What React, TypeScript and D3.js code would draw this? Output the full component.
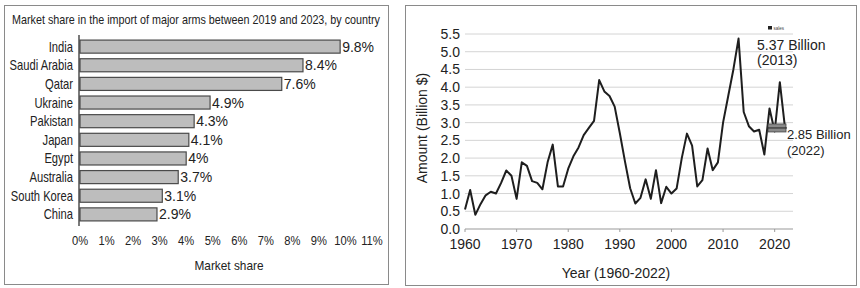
import React from "react";
import * as d3 from "d3";

const countries = ["India", "Saudi Arabia", "Qatar", "Ukraine", "Pakistan", "Japan", "Egypt", "Australia", "South Korea", "China"];
const shares = [9.8, 8.4, 7.6, 4.9, 4.3, 4.1, 4, 3.7, 3.1, 2.9];
const shareLabels = ["9.8%", "8.4%", "7.6%", "4.9%", "4.3%", "4.1%", "4%", "3.7%", "3.1%", "2.9%"];
const shareTicks = [0, 1, 2, 3, 4, 5, 6, 7, 8, 9, 10, 11];

const years = d3.range(1960, 2023);
const amounts = [
  0.55, 1.1, 0.4, 0.7, 0.95, 1.05, 1.0, 1.3, 1.65, 1.5,
  0.85, 1.88, 1.78, 1.35, 1.3, 1.12, 1.88, 2.38, 1.2, 1.2,
  1.7, 2.05, 2.3, 2.65, 2.85, 3.05, 4.2, 3.88, 3.75, 3.45,
  2.7, 1.9, 1.15, 0.72, 0.88, 1.4, 0.85, 1.66, 0.73, 1.19,
  1.0, 1.14, 2.0, 2.69, 2.35, 1.2, 1.38, 2.27, 1.66, 1.88,
  3.0, 3.75, 4.5, 5.37, 3.3, 2.9, 2.75, 2.8, 2.1, 3.4,
  2.75, 4.14, 2.85,
];
const yearTicks = [1960, 1970, 1980, 1990, 2000, 2010, 2020];
const amountTicks = [0, 0.5, 1, 1.5, 2, 2.5, 3, 3.5, 4, 4.5, 5, 5.5];

const FONT = "'Liberation Sans', Arial, sans-serif";
const TXT = "#222";

export default function App() {
  // Left chart scales
  const xS = d3.scaleLinear().domain([0, 11]).range([80, 372]);
  const yB = d3.scaleBand().domain(countries).range([34.5, 226.5]).padding(0.3);

  // Right chart scales
  const xY = d3.scaleLinear().domain([1960, 2022]).range([465, 785]);
  const yA = d3.scaleLinear().domain([0, 5.5]).range([229, 34]);
  const line = d3
    .line<number>()
    .x((_, i) => xY(years[i]))
    .y((d) => yA(d));

  const last = amounts.length - 1;
  const peakIdx = amounts.indexOf(d3.max(amounts) as number);

  return (
    <svg
      width={860}
      height={288}
      style={{ position: "absolute", left: 0, top: 0, background: "#fff" }}
      fontFamily={FONT}
    >
      {/* Left panel */}
      <rect x={4.5} y={5.5} width={384} height={279} fill="#fff" stroke="#8a8a8a" strokeWidth={1} />
      <text x={12} y={24} fontSize={13} fill={TXT} textLength={368} lengthAdjust="spacingAndGlyphs">
        Market share in the import of major arms between 2019 and 2023, by country
      </text>
      {countries.map((c, i) => {
        const yc = (yB(c) as number) + yB.bandwidth() / 2;
        return (
          <g key={c}>
            <rect
              x={xS(0)}
              y={yB(c)}
              width={xS(shares[i]) - xS(0)}
              height={yB.bandwidth()}
              fill="#bdbdbd"
              stroke="#4a4a4a"
              strokeWidth={1.2}
            />
            <text
              transform={`translate(73,${yc + 5}) scale(0.8,1)`}
              textAnchor="end"
              fontSize={14}
              fill={TXT}
            >
              {c}
            </text>
            <text x={xS(shares[i]) + 2} y={yc + 5} fontSize={14} fill={TXT}>
              {shareLabels[i]}
            </text>
          </g>
        );
      })}
      <line x1={79} x2={79} y1={35} y2={226} stroke="#333" strokeWidth={1.3} />
      {shareTicks.map((t) => (
        <text
          key={t}
          transform={`translate(${xS(t)},245) scale(0.86,1)`}
          textAnchor="middle"
          fontSize={13}
          fill={TXT}
        >
          {t + "%"}
        </text>
      ))}
      <text x={229} y={270} textAnchor="middle" fontSize={13} fill={TXT} textLength={69} lengthAdjust="spacingAndGlyphs">
        Market share
      </text>

      {/* Right panel */}
      <rect x={405.5} y={5.5} width={451} height={280} fill="#fff" stroke="#8a8a8a" strokeWidth={1} />
      {amountTicks.map((t) => (
        <g key={t}>
          {t > 0 && (
            <line x1={465} x2={793} y1={yA(t)} y2={yA(t)} stroke="#d4d4d4" strokeWidth={1} />
          )}
          <text x={460} y={yA(t) + 5} textAnchor="end" fontSize={14} fill={TXT}>
            {t.toFixed(1)}
          </text>
        </g>
      ))}
      <line x1={465} x2={793} y1={yA(0)} y2={yA(0)} stroke="#9a9a9a" strokeWidth={1.2} />
      {yearTicks.map((t) => (
        <g key={t}>
          <line x1={xY(t)} x2={xY(t)} y1={yA(0)} y2={yA(0) + 3} stroke="#9a9a9a" />
          <text x={xY(t)} y={249} textAnchor="middle" fontSize={14} fill={TXT}>
            {t}
          </text>
        </g>
      ))}
      <path d={line(amounts) as string} fill="none" stroke="#1e1e1e" strokeWidth={2} strokeLinejoin="round" />
      <text
        transform={`translate(427,128) rotate(-90)`}
        textAnchor="middle"
        fontSize={14}
        fill={TXT}
      >
        Amount (Billion $)
      </text>
      <text x={616} y={278} textAnchor="middle" fontSize={14} fill={TXT}>
        Year (1960-2022)
      </text>

      {/* Annotations */}
      <rect x={768} y={26} width={4} height={3.5} fill="#222" />
      <text x={773.5} y={29.5} fontSize={4.5} fill="#444">sales</text>
      <text x={757} y={50} fontSize={14} fill={TXT}>
        {amounts[peakIdx].toFixed(2)} Billion
      </text>
      <text x={757} y={65} fontSize={14} fill={TXT}>
        ({years[peakIdx]})
      </text>
      <rect x={xY(years[last]) - 17} y={yA(amounts[last]) - 4} width={18} height={8} fill="#8a8a8a" stroke="#444" strokeWidth={0.8} />
      <line x1={xY(years[last]) - 17} x2={xY(years[last]) + 2} y1={yA(amounts[last])} y2={yA(amounts[last])} stroke="#222" strokeWidth={1} />
      <text x={787} y={139} fontSize={13} fill={TXT}>
        {amounts[last].toFixed(2)} Billion
      </text>
      <text x={787} y={155} fontSize={13} fill={TXT}>
        ({years[last]})
      </text>
    </svg>
  );
}
